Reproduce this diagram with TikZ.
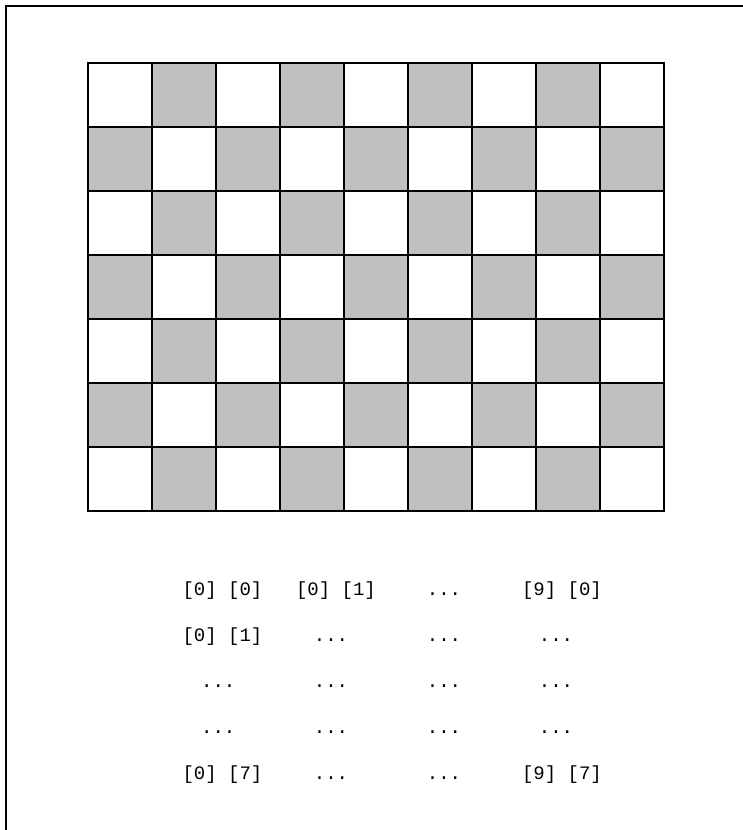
\documentclass[tikz,border=0pt]{standalone}
\usepackage{fontspec}
\newfontfamily\monof{Liberation Mono}
\definecolor{cellgray}{RGB}{192,192,192}
\begin{document}
\begin{tikzpicture}[x=1pt,y=-1pt,
  frameline/.style={line width=1.6pt, line cap=rect},
  cellbox/.style={draw=black, line width=1.1pt},
  idx/.style={font=\monof\fontsize{19}{23}\selectfont, anchor=base, inner sep=0pt}]
\useasboundingbox (0,0) rectangle (743,830);
% frame (top and left only)
\coordinate (fbl) at (6,830);
\coordinate (ftl) at (6,6);
\coordinate (ftr) at (743,6);
\draw[frameline] (fbl) -- (ftl) -- (ftr);
% checkerboard
\foreach \r in {0,...,6}{
  \foreach \c in {0,...,8}{
    \pgfmathtruncatemacro{\cellpar}{mod(\r+\c,2)}
    \ifnum\cellpar=1
      \filldraw[cellbox, fill=cellgray] (88+64*\c,63+64*\r) rectangle ++(64,64);
    \else
      \draw[cellbox] (88+64*\c,63+64*\r) rectangle ++(64,64);
    \fi
  }
}
% index table
\node[idx] (a11) at (222.5,595) {[0] [0]};
\node[idx] (a12) at (336,595) {[0] [1]};
\node[idx] (a13) at (444,595) {...};
\node[idx] (a14) at (562,595) {[9] [0]};
\node[idx] (a21) at (222.5,641) {[0] [1]};
\node[idx] (a22) at (331,641) {...};
\node[idx] (a23) at (444,641) {...};
\node[idx] (a24) at (556,641) {...};
\node[idx] (a31) at (218.3,687) {...};
\node[idx] (a32) at (331,687) {...};
\node[idx] (a33) at (444,687) {...};
\node[idx] (a34) at (556,687) {...};
\node[idx] (a41) at (218.3,733) {...};
\node[idx] (a42) at (331,733) {...};
\node[idx] (a43) at (444,733) {...};
\node[idx] (a44) at (556,733) {...};
\node[idx] (a51) at (222.5,779) {[0] [7]};
\node[idx] (a52) at (331,779) {...};
\node[idx] (a53) at (444,779) {...};
\node[idx] (a54) at (562,779) {[9] [7]};
\end{tikzpicture}
\end{document}
